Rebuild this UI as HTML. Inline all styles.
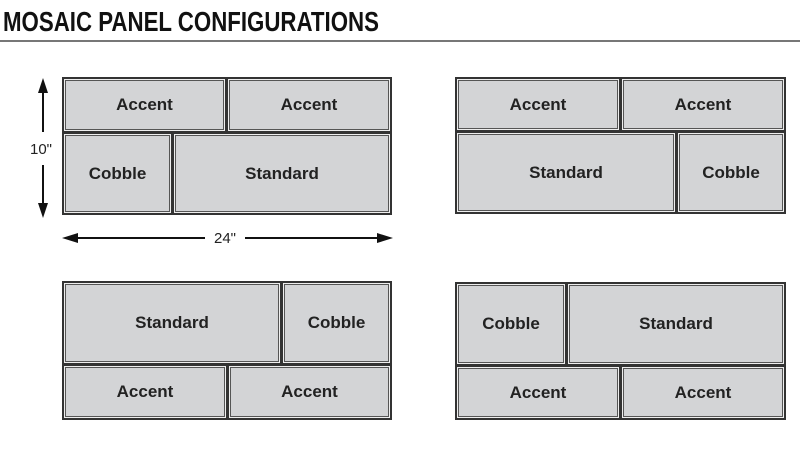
<!DOCTYPE html>
<html><head><meta charset="utf-8"><style>
body{margin:0;width:800px;height:450px;background:#fff;position:relative;overflow:hidden;font-family:"Liberation Sans",Arial,sans-serif}
.t{position:absolute;box-sizing:border-box;background:#d3d4d6;border:2px solid #333;box-shadow:inset 0 0 0 1px #eee,inset 0 0 0 2px #555;display:flex;align-items:center;justify-content:center;font-weight:bold;font-size:17px;color:#222}
.title{position:absolute;left:3px;top:6px;font-weight:bold;font-size:28px;color:#111;transform:scaleX(0.795);transform-origin:left top;white-space:nowrap;letter-spacing:0}
.line{position:absolute;left:0;top:40px;width:800px;height:2px;background:#777}
.lbl{position:absolute;font-size:15px;color:#222}
</style></head><body>
<div class="title">MOSAIC PANEL CONFIGURATIONS</div>
<div class="line"></div>

<div class="t" style="left:62px;top:77px;width:165px;height:56px">Accent</div>
<div class="t" style="left:226px;top:77px;width:166px;height:56px">Accent</div>
<div class="t" style="left:62px;top:132px;width:111px;height:83px">Cobble</div>
<div class="t" style="left:172px;top:132px;width:220px;height:83px">Standard</div>

<div class="t" style="left:455px;top:77px;width:166px;height:55px">Accent</div>
<div class="t" style="left:620px;top:77px;width:166px;height:55px">Accent</div>
<div class="t" style="left:455px;top:131px;width:222px;height:83px">Standard</div>
<div class="t" style="left:676px;top:131px;width:110px;height:83px">Cobble</div>

<div class="t" style="left:62px;top:281px;width:220px;height:84px">Standard</div>
<div class="t" style="left:281px;top:281px;width:111px;height:84px">Cobble</div>
<div class="t" style="left:62px;top:364px;width:166px;height:56px">Accent</div>
<div class="t" style="left:227px;top:364px;width:165px;height:56px">Accent</div>

<div class="t" style="left:455px;top:282px;width:112px;height:84px">Cobble</div>
<div class="t" style="left:566px;top:282px;width:220px;height:84px">Standard</div>
<div class="t" style="left:455px;top:365px;width:166px;height:55px">Accent</div>
<div class="t" style="left:620px;top:365px;width:166px;height:55px">Accent</div>

<svg style="position:absolute;left:0;top:0" width="800" height="450">
<g stroke="#111" stroke-width="2" fill="#111">
<line x1="43" y1="88" x2="43" y2="132"/>
<line x1="43" y1="165" x2="43" y2="206"/>
<polygon points="43,78 38,93 48,93" stroke="none"/>
<polygon points="43,218 38,203 48,203" stroke="none"/>
<line x1="73" y1="238" x2="205" y2="238"/>
<line x1="245" y1="238" x2="383" y2="238"/>
<polygon points="62,238 78,233 78,243" stroke="none"/>
<polygon points="393,238 377,233 377,243" stroke="none"/>
</g>
</svg>
<div class="lbl" style="left:30px;top:141px">10"</div>
<div class="lbl" style="left:214px;top:230px">24"</div>
</body></html>
